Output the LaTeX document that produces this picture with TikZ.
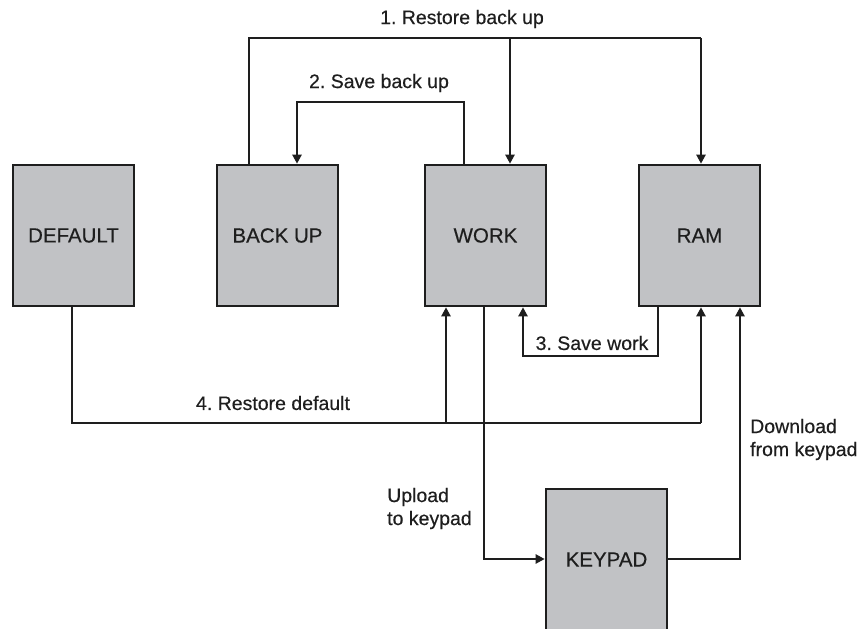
\documentclass[tikz,border=0pt]{standalone}
\usepackage{fontspec}
\setmainfont{Liberation Sans}[FakeBold=0.35]
\usetikzlibrary{arrows.meta}
\definecolor{boxgray}{RGB}{193,194,197}
\definecolor{ink}{RGB}{30,30,30}
\frenchspacing
\begin{document}
\begin{tikzpicture}[x=1pt,y=-1pt,
  memblock/.style={draw=ink, line width=2.6pt, fill=boxgray, minimum width=121pt, minimum height=141pt, inner sep=0pt, font=\fontsize{20.5}{24}\selectfont, text=ink},
  link/.style={draw=ink, line width=2.3pt},
  arr/.style={link, -{Triangle[length=9pt,width=9pt]}},
  lbl/.style={font=\fontsize{19.5}{23}\selectfont, text=ink, inner sep=0pt}
]
\useasboundingbox (0,0) rectangle (868,629);
\fill[white] (0,0) rectangle (868,629);

% blocks
\node[memblock] (default) at (73.5,235.5) {DEFAULT};
\node[memblock] (backup)  at (277.5,235.5) {BACK UP};
\node[memblock] (work)    at (485.5,235.5) {WORK};
\node[memblock] (ram)     at (699.5,235.5) {RAM};
\node[memblock] (keypad)  at (606.5,559.5) {KEYPAD};

% bend points
\coordinate (r1) at (249,38);
\coordinate (r2) at (510,38);
\coordinate (r3) at (701,38);
\coordinate (s1) at (464,102);
\coordinate (s2) at (297,102);
\coordinate (w1) at (658,356);
\coordinate (w2) at (523,356);
\coordinate (d1) at (72,423);
\coordinate (d2) at (446,423);
\coordinate (d3) at (701,423);
\coordinate (u1) at (484,559);
\coordinate (k1) at (740,559);

% 1. Restore back up
\draw[link] (backup.north -| r1) -- (r1) -- (r3);
\draw[arr] (r2) -- (r2 |- work.north);
\draw[arr] (r3) -- (r3 |- ram.north);
% 2. Save back up
\draw[arr] (work.north -| s1) -- (s1) -- (s2) -- (s2 |- backup.north);
% 3. Save work
\draw[arr] (ram.south -| w1) -- (w1) -- (w2) -- (w2 |- work.south);
% 4. Restore default
\draw[link] (default.south -| d1) -- (d1) -- (d3);
\draw[arr] (d3) -- (d3 |- ram.south);
\draw[arr] (d2) -- (d2 |- work.south);
% upload / download
\draw[arr] (work.south -| u1) -- (u1) -- (keypad.west |- u1);
\draw[arr] (keypad.east |- k1) -- (k1) -- (k1 |- ram.south);

% labels
\node[lbl] (l1) at (462,19) {1. Restore back up};
\node[lbl] (l2) at (379,83) {2. Save back up};
\node[lbl] (l3) at (592,343) {3. Save work};
\node[lbl] (l4) at (273,403) {4. Restore default};
\node[lbl, anchor=west, align=left] (l5) at (387,508.5) {Upload\\to keypad};
\node[lbl, anchor=west, align=left] (l6) at (750,439.5) {Download\\from keypad};
\end{tikzpicture}
\end{document}
